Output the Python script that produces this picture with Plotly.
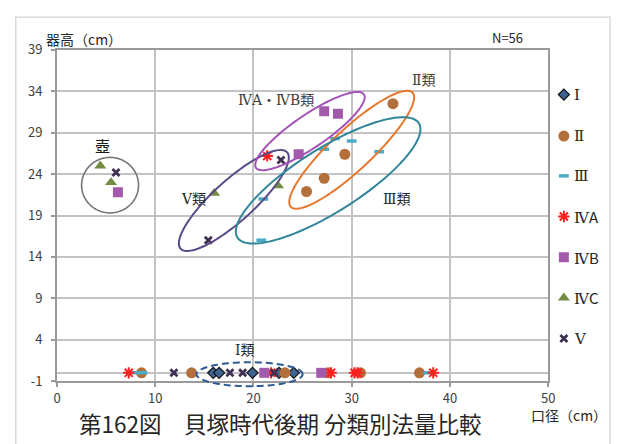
import numpy as np
import plotly.graph_objects as go

# ---- page / plot-area geometry (pixels) ----
W, H = 618, 444
PL, PR, PT, PB = 54, 554, 41.7, 387.7

# ---- data: rim diameter (口径, cm) and vessel height (器高, cm) ----
# height 0 = height not measurable (rim only)
series_names = ["Ⅰ", "Ⅱ", "Ⅲ", "ⅣA", "ⅣB", "ⅣC", "Ⅴ"]

rim_I = [15.9, 16.5, 19.9, 22.6, 24.1]
height_I = [0, 0, 0, 0, 0]

rim_II = [34.2, 29.3, 27.2, 25.4, 8.6, 13.7, 23.2, 27.6, 30.9, 36.9]
height_II = [32.5, 26.4, 23.5, 21.9, 0, 0, 0, 0, 0, 0]

rim_III = [21.0, 20.8, 27.2, 28.3, 30.0, 32.8, 7.9, 8.7, 37.8]
height_III = [21.0, 16.0, 27.0, 28.3, 28.0, 26.7, 0, 0, 0]

rim_IVA = [21.4, 7.3, 21.8, 27.9, 30.3, 30.6, 38.3]
height_IVA = [26.2, 0, 0, 0, 0, 0, 0]

rim_IVB = [6.2, 24.6, 27.2, 28.6, 21.1, 26.9]
height_IVB = [21.8, 26.4, 31.6, 31.3, 0, 0]

rim_IVC = [4.4, 5.5, 16.0, 22.5]
height_IVC = [25.0, 23.0, 21.7, 22.6]

rim_V = [6.0, 15.4, 22.8, 11.9, 17.6, 18.9, 22.1]
height_V = [24.2, 16.0, 25.7, 0, 0, 0, 0]

x_tick_vals = [0, 10, 20, 30, 40, 50]
y_tick_vals = [-1, 4, 9, 14, 19, 24, 29, 34, 39]
y_tick_text = ["-1", "4", "9", "14", "19", "24", "29", "34", "39"]

sample_count_label = "N=56"

xs = [rim_I, rim_II, rim_III, rim_IVA, rim_IVB, rim_IVC, rim_V]
ys = [height_I, height_II, height_III, height_IVA, height_IVB, height_IVC, height_V]

JP = "Noto Sans CJK JP"
SERIF = "DejaVu Serif, Liberation Serif, Noto Sans CJK JP"

markers = [
    dict(symbol="diamond", size=8.5, color="#3E6494", line=dict(color="#111111", width=1.2)),
    dict(symbol="circle", size=11, color="#B4703B", line=dict(width=0)),
    dict(symbol="line-ew-open", size=7, color="#4BACC6", line=dict(color="#4BACC6", width=3.5)),
    dict(symbol="asterisk-open", size=9.5, color="#FF1F1F", line=dict(color="#FF1F1F", width=2)),
    dict(symbol="square", size=10, color="#A35AAB", line=dict(width=0)),
    dict(symbol="triangle-up", size=10.5, color="#728C44", line=dict(width=0)),
    dict(symbol="x-thin-open", size=7, color="#403152", line=dict(color="#403152", width=2.8)),
]

fig = go.Figure()

for name, x, y, mk in zip(series_names, xs, ys, markers):
    fig.add_trace(go.Scatter(x=x, y=y, mode="markers", name=name, marker=mk,
                             showlegend=False, xaxis="x", yaxis="y",
                             hovertemplate=name + ": %{x}, %{y}<extra></extra>"))

# legend column drawn on a pixel-space overlay
legend_x = 570
legend_y = [88.3, 131.7, 173.3, 215.7, 258.3, 300.7, 343.3]
legend_text = ["Ⅰ", "Ⅱ", "Ⅲ",
               "Ⅳ<span style='font-family:Noto Sans CJK JP'>A</span>",
               "Ⅳ<span style='font-family:Noto Sans CJK JP'>B</span>",
               "Ⅳ<span style='font-family:Noto Sans CJK JP'>C</span>",
               "Ⅴ"]
for name, ly, mk in zip(series_names, legend_y, markers):
    fig.add_trace(go.Scatter(x=[legend_x], y=[ly], mode="markers", marker=mk,
                             showlegend=False, hoverinfo="skip",
                             xaxis="x2", yaxis="y2"))

annotations = []
for txt, ly in zip(legend_text, legend_y):
    annotations.append(dict(x=legend_x + 8, y=ly, xref="x2", yref="y2", text=txt,
                            showarrow=False, xanchor="left", yanchor="middle",
                            font=dict(family=SERIF, size=15, color="#262626")))


def ellipse_path(cx, cy, a, b, deg, n=120):
    t = np.linspace(0, 2 * np.pi, n, endpoint=False)
    th = np.radians(deg)
    ex = cx + a * np.cos(t) * np.cos(th) - b * np.sin(t) * np.sin(th)
    ey = cy - (a * np.cos(t) * np.sin(th) + b * np.sin(t) * np.cos(th))
    return "M" + " L".join(f"{px:.2f},{py:.2f}" for px, py in zip(ex, ey)) + " Z"


# group outlines: (cx, cy, a, b, angle, colour, width, dash)
outlines = [
    (108, 183, 29, 29, 0, "#767676", 1.6, "solid"),
    (234, 199, 74, 21, 43, "#5B4B8A", 2, "solid"),
    (311.5, 126.5, 67, 17, 35, "#A653B8", 2, "solid"),
    (354, 146, 86, 21, 44, "#E8772E", 2, "solid"),
    (330, 178, 110, 33, 33, "#31869B", 2, "solid"),
    (250, 380.5, 54, 12.5, 0, "#2F5B95", 2, "7px,4px"),
]

shapes = []
for cx, cy, a, b, ang, col, lw, dash in outlines:
    shapes.append(dict(type="path", path=ellipse_path(cx, cy, a, b, ang),
                       xref="x2", yref="y2", line=dict(color=col, width=lw, dash=dash),
                       fillcolor="rgba(0,0,0,0)", layer="above"))

# outer chart frame
shapes.append(dict(type="rect", xref="paper", yref="paper",
                   x0=12 / W, x1=617 / W, y0=1 - 470 / H, y1=1 - 7.5 / H,
                   line=dict(color="#D4D4D4", width=1.3), layer="below"))

labels = [
    ("壺", 100, 142, JP, 15, "#1a1a1a", "center"),
    ("Ⅴ類", 193, 197, SERIF, 14, "#262626", "center"),
    ("ⅣA・ⅣB類", 277, 94, SERIF, 14, "#404040", "center"),
    ("Ⅱ類", 428, 73, SERIF, 14, "#404040", "center"),
    ("Ⅲ類", 400, 197, SERIF, 14, "#262626", "center"),
    ("Ⅰ類", 245, 355, SERIF, 14, "#262626", "center"),
    (sample_count_label, 513, 29, JP, 13, "#262626", "center"),
    ("器高（cm）", 41, 30, JP, 14, "#262626", "left"),
    ("口径（cm）", 575, 423, JP, 14, "#262626", "center"),
    ("第162図　貝塚時代後期 分類別法量比較", 282, 431, JP, 22.5, "#262626", "center"),
]
for txt, lx, ly, fam, fs, col, anc in labels:
    annotations.append(dict(x=lx, y=ly, xref="x2", yref="y2", text=txt, showarrow=False,
                            xanchor=anc, yanchor="middle",
                            font=dict(family=fam, size=fs, color=col)))

axis_common = dict(showgrid=True, gridcolor="#C3C3C3", gridwidth=1.5,
                   showline=True, linecolor="#9A9A9A", linewidth=2, mirror=True,
                   ticks="outside", ticklen=4, tickcolor="#9A9A9A", tickwidth=1.5,
                   tickfont=dict(family=JP, size=13, color="#404040"))

fig.update_layout(
    width=W, height=H, autosize=False,
    margin=dict(l=0, r=0, t=0, b=0),
    paper_bgcolor="white", plot_bgcolor="rgba(0,0,0,0)",
    showlegend=False,
    xaxis=dict(domain=[PL / W, PR / W], range=[0, 50], tickvals=x_tick_vals,
               zeroline=False, anchor="y", **axis_common),
    yaxis=dict(domain=[1 - PB / H, 1 - PT / H], range=[-1, 39], tickvals=y_tick_vals,
               ticktext=y_tick_text, zeroline=True, zerolinecolor="#C3C3C3",
               zerolinewidth=1.5, anchor="x", ticklabelstandoff=6, **axis_common),
    xaxis2=dict(domain=[0, 1], range=[0, W], visible=False, anchor="y2", fixedrange=True),
    yaxis2=dict(domain=[0, 1], range=[H, 0], visible=False, anchor="x2", fixedrange=True),
    shapes=shapes,
    annotations=annotations,
)

fig.write_html("out.html")
